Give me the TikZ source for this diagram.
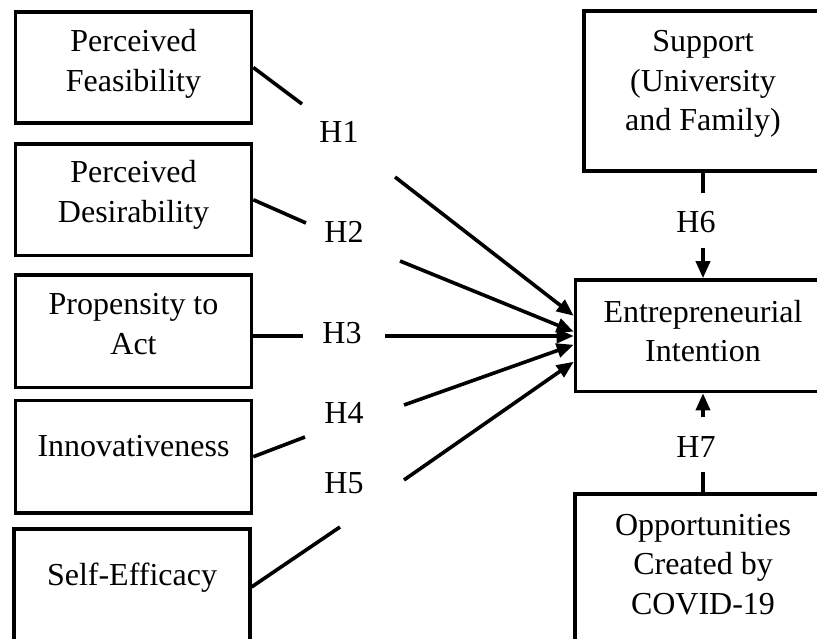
\documentclass[tikz,border=0pt]{standalone}
\usepackage{fontspec}
\setmainfont{Liberation Serif}
\usetikzlibrary{arrows.meta,calc}
\begin{document}
\begin{tikzpicture}[x=1pt,y=-1pt,
  box/.style={draw, line width=3.6pt, inner sep=0pt, align=flush center, anchor=base,
              font=\fontsize{32}{39.5}\selectfont},
  hlab/.style={inner sep=0pt, anchor=base, font=\fontsize{32}{39.5}\selectfont},
  conn/.style={line width=3.6pt},
  arr/.style={conn, -{Triangle[length=17pt,width=14pt]}}]
\useasboundingbox (0,0) rectangle (817,639);
\fill[white] (0,0) rectangle (817,639);
\clip (0,0) rectangle (817,639);

% left boxes
\node[box, text width=236pt, text height=40pt, text depth=71pt] (pf) at (133.5,52) {Perceived\\Feasibility};
\node[box, text width=236pt, text height=39pt, text depth=72.5pt] (pd) at (133.5,183) {Perceived\\Desirability};
\node[box, text width=236pt, text height=40pt, text depth=72.5pt] (pa) at (133.5,315) {Propensity to\\Act};
\node[box, text width=236pt, text height=55.5pt, text depth=57pt] (inn) at (133.5,456) {Innovativeness};
\node[box, text width=235.5pt, text height=56pt, text depth=60pt] (se) at (132,585) {Self-Efficacy};

% right boxes
\node[box, text width=238pt, text height=41pt, text depth=119pt] (sup) at (703,52) {Support\\(University\\and Family)};
\node[box, text width=255pt, text height=42pt, text depth=69.5pt] (ei) at (703,322) {Entrepreneurial\\Intention};
\node[box, text width=256pt, text height=41pt, text depth=120pt] (opp) at (703,535) {Opportunities\\Created by\\COVID-19};

% hypothesis labels
\node[hlab] (h1) at (339,143) {H1};
\node[hlab] (h2) at (344,243) {H2};
\node[hlab] (h3) at (342,343) {H3};
\node[hlab] (h4) at (344,423) {H4};
\node[hlab] (h5) at (344,493) {H5};
\node[hlab] (h6) at (696,233) {H6};
\node[hlab] (h7) at (696,457) {H7};

% gap ends of the broken connectors
\coordinate (g1a) at (302,104);
\coordinate (g1b) at (395,177);
\coordinate (g2a) at (306,223);
\coordinate (g2b) at (400,261);
\coordinate (g3a) at (303,336);
\coordinate (g3b) at (385,336);
\coordinate (g4a) at (305,437);
\coordinate (g4b) at (404,405);
\coordinate (g5a) at (340,527);
\coordinate (g5b) at (404,480);
\coordinate (g6a) at (703,193);
\coordinate (g6b) at (703,248);
\coordinate (g7a) at (703,472);
\coordinate (g7b) at (703,417);

% connectors
\draw[conn] (pf.east) -- (g1a);
\draw[arr] (g1b) -- ($(ei.west)+(0,-20)$);
\draw[conn] (pd.east) -- (g2a);
\draw[arr] (g2b) -- ($(ei.west)+(0,-4)$);
\draw[conn] (pa.east |- g3a) -- (g3a);
\draw[arr] (g3b) -- (ei.west |- g3b);
\draw[conn] (inn.east) -- (g4a);
\draw[arr] (g4b) -- ($(ei.west)+(0,9)$);
\draw[conn] (se.east) -- (g5a);
\draw[arr] (g5b) -- ($(ei.west)+(0,26)$);
\draw[conn] (sup.south) -- (g6a);
\draw[arr] (g6b) -- (ei.north);
\draw[conn] (opp.north) -- (g7a);
\draw[arr] (g7b) -- (ei.south);
\end{tikzpicture}
\end{document}
